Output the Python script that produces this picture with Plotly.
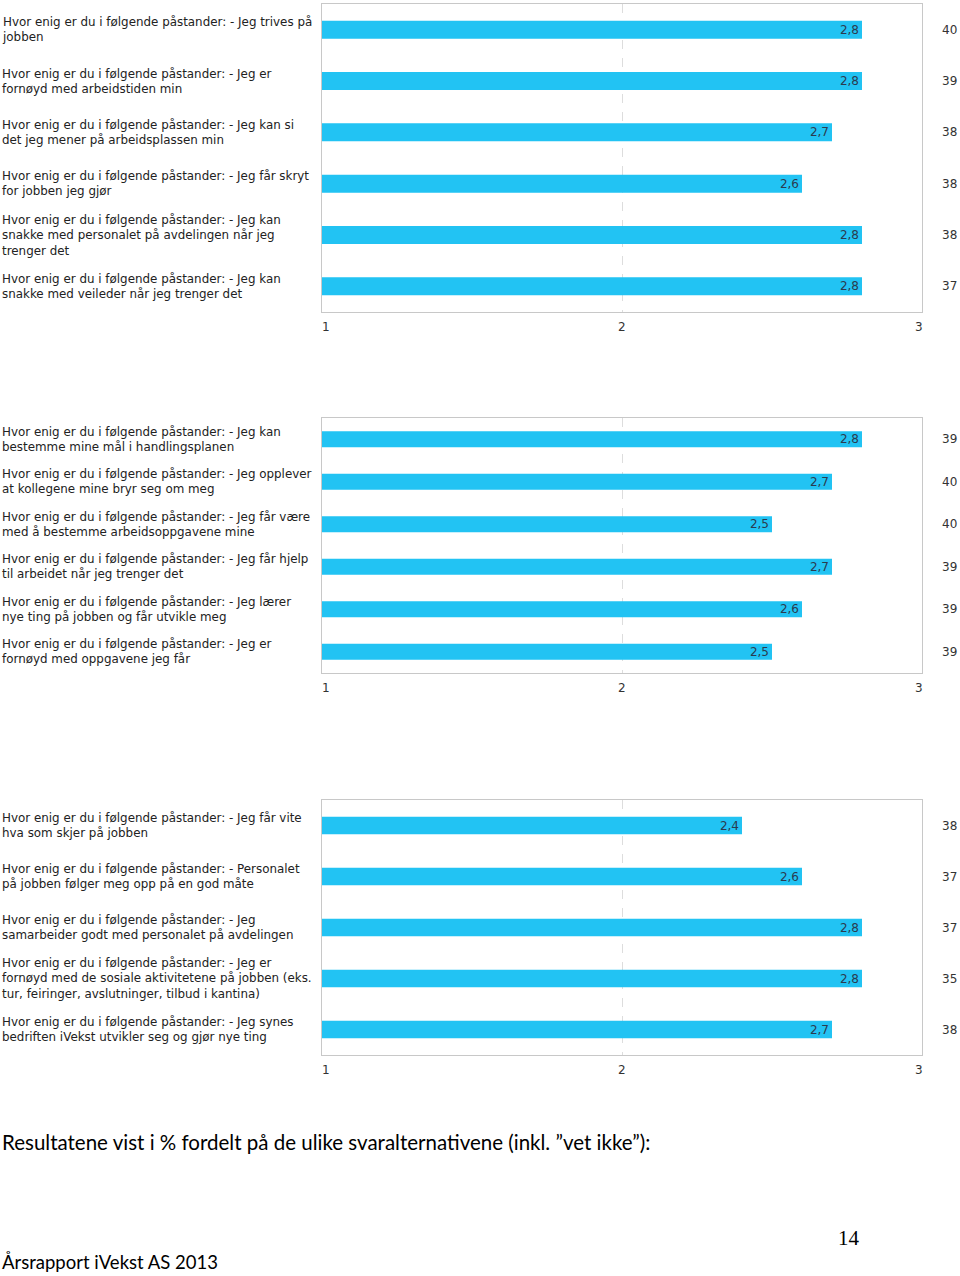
import plotly.graph_objects as go

# ---------------- data ----------------
P = "Hvor enig er du i følgende påstander: - "
labels_1 = [
    P + "Jeg trives på<br>jobben",
    P + "Jeg er<br>fornøyd med arbeidstiden min",
    P + "Jeg kan si<br>det jeg mener på arbeidsplassen min",
    P + "Jeg får skryt<br>for jobben jeg gjør",
    P + "Jeg kan<br>snakke med personalet på avdelingen når jeg<br>trenger det",
    P + "Jeg kan<br>snakke med veileder når jeg trenger det",
]
values_1 = [2.8, 2.8, 2.7, 2.6, 2.8, 2.8]
n_1 = [40, 39, 38, 38, 38, 37]

labels_2 = [
    P + "Jeg kan<br>bestemme mine mål i handlingsplanen",
    P + "Jeg opplever<br>at kollegene mine bryr seg om meg",
    P + "Jeg får være<br>med å bestemme arbeidsoppgavene mine",
    P + "Jeg får hjelp<br>til arbeidet når jeg trenger det",
    P + "Jeg lærer<br>nye ting på jobben og får utvikle meg",
    P + "Jeg er<br>fornøyd med oppgavene jeg får",
]
values_2 = [2.8, 2.7, 2.5, 2.7, 2.6, 2.5]
n_2 = [39, 40, 40, 39, 39, 39]

labels_3 = [
    P + "Jeg får vite<br>hva som skjer på jobben",
    P + "Personalet<br>på jobben følger meg opp på en god måte",
    P + "Jeg<br>samarbeider godt med personalet på avdelingen",
    P + "Jeg er<br>fornøyd med de sosiale aktivitetene på jobben (eks.<br>tur, feiringer, avslutninger, tilbud i kantina)",
    P + "Jeg synes<br>bedriften iVekst utvikler seg og gjør nye ting",
]
values_3 = [2.4, 2.6, 2.8, 2.8, 2.7]
n_3 = [38, 37, 37, 35, 38]

x_ticks = [1, 2, 3]
footer_text = "Resultatene vist i % fordelt på de ulike svaralternativene (inkl. ”vet ikke”):"
report_text = "Årsrapport iVekst AS 2013"
page_number = "14"

# ---------------- layout constants ----------------
W, H = 960, 1276
BAR_COLOR = "#22C3F3"
TXT = "#333333"
FONT = "DejaVu Sans"

def py(p):
    return 1 - p / H

panels = [
    (labels_1, values_1, n_1, (4, 312), 0.35),
    (labels_2, values_2, n_2, (418, 673), 0.38),
    (labels_3, values_3, n_3, (800, 1055), 0.34),
]

fig = go.Figure()
annotations = []
x_dom = [322 / W, 922 / W]

for i, (labs, vals, ns, (top, bot), bw) in enumerate(panels):
    k = "" if i == 0 else str(i + 1)
    xa, ya = "x" + k, "y" + k
    fig.add_trace(go.Bar(
        x=vals, y=labs, orientation="h", base=0,
        width=bw,
        marker=dict(color=BAR_COLOR, line=dict(width=0)),
        text=[f"{v:.1f}".replace(".", ",") for v in vals],
        textposition="inside", insidetextanchor="end", constraintext="none",
        textfont=dict(family=FONT, size=12, color="#2A3B4F"),
        xaxis=xa, yaxis=ya, showlegend=False, hoverinfo="skip",
    ))
    fig.update_layout(**{
        ("xaxis" + k): dict(
            domain=x_dom, anchor=ya, range=[1, 3], tickvals=x_ticks,
            showticklabels=False,
            showgrid=True, gridcolor="#DDDDDD", griddash="dash", gridwidth=1,
            showline=True, mirror=True, linecolor="#C8C8C8", linewidth=1,
            zeroline=False, ticks="", fixedrange=True,
        ),
        ("yaxis" + k): dict(
            domain=[py(bot), py(top)], anchor=xa, autorange="reversed",
            showticklabels=False, showgrid=False, ticks="",
            showline=True, mirror=True, linecolor="#C8C8C8", linewidth=1,
            categoryorder="array", categoryarray=labs,
        ),
    })
    # tick labels (first left-aligned, middle centred, last right-aligned)
    for j, t in enumerate(x_ticks):
        last = len(x_ticks) - 1
        anchor = "left" if j == 0 else ("right" if j == last else "center")
        shift = -2 if j == 0 else (3 if j == last else 0)
        annotations.append(dict(
            text=str(t), xref=xa, x=t, xanchor=anchor, xshift=shift,
            yref="paper", y=py(bot + 15), yanchor="middle", showarrow=False,
            font=dict(family=FONT, size=12, color=TXT),
        ))
    for lab, n in zip(labs, ns):
        annotations.append(dict(
            text=lab, xref="paper", x=3 / W, xshift=-3, xanchor="left", align="left",
            yref=ya, y=lab, yanchor="middle", showarrow=False,
            font=dict(family=FONT, size=11.9, color="#222222"),
        ))
        annotations.append(dict(
            text=str(n), xref="paper", x=958 / W, xshift=1, xanchor="right",
            yref=ya, y=lab, yanchor="middle", showarrow=False,
            font=dict(family=FONT, size=12, color=TXT),
        ))

annotations.append(dict(
    text=footer_text, xref="paper", yref="paper", x=2 / W, xshift=-2, y=py(1142),
    xanchor="left", yanchor="middle", showarrow=False,
    font=dict(family="Lato", size=20.5, color="#000000"),
))
annotations.append(dict(
    text=page_number, xref="paper", yref="paper", x=849 / W, y=py(1238),
    xanchor="center", yanchor="middle", showarrow=False,
    font=dict(family="Liberation Serif", size=21, color="#000000"),
))
annotations.append(dict(
    text=report_text, xref="paper", yref="paper", x=2 / W, xshift=-2, y=py(1262),
    xanchor="left", yanchor="middle", showarrow=False,
    font=dict(family="Lato", size=18.5, color="#000000"),
))

fig.update_layout(
    width=W, height=H, autosize=False,
    margin=dict(l=0, r=0, t=0, b=0),
    paper_bgcolor="white", plot_bgcolor="white",
    annotations=annotations,
)

fig.write_html("out.html")
